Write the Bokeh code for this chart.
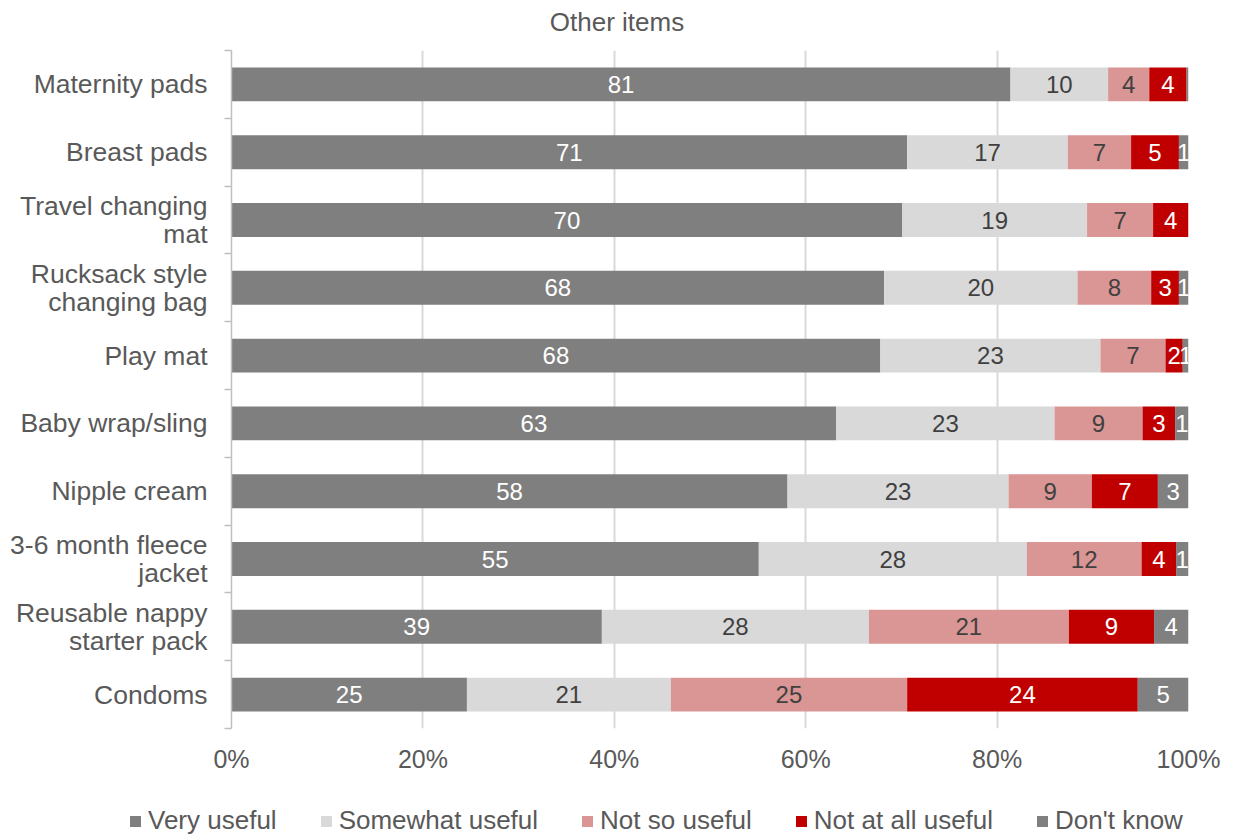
import numpy as np
from bokeh.plotting import figure
from bokeh.layouts import column
from bokeh.models import FixedTicker, ColumnDataSource, Range1d, Div
from bokeh.core.properties import value
from bokeh.embed import file_html
from bokeh.resources import INLINE

title_text = "Other items"
categories = ["Maternity pads", "Breast pads", "Travel changing\nmat", "Rucksack style\nchanging bag",
              "Play mat", "Baby wrap/sling", "Nipple cream", "3-6 month fleece\njacket",
              "Reusable nappy\nstarter pack", "Condoms"]
series = ["Very useful", "Somewhat useful", "Not so useful", "Not at all useful", "Don't know"]
very_useful = [81.4, 70.6, 70.1, 68.2, 67.8, 63.2, 58.1, 55.1, 38.7, 24.6]
somewhat_useful = [10.2, 16.8, 19.3, 20.2, 23.0, 22.8, 23.1, 28.0, 27.9, 21.3]
not_so_useful = [4.3, 6.6, 6.9, 7.7, 6.8, 9.2, 8.7, 12.0, 20.9, 24.7]
not_at_all_useful = [3.9, 5.0, 3.7, 2.9, 1.8, 3.4, 6.9, 3.6, 8.9, 24.1]
dont_know = [0.2, 1.0, 0.0, 1.0, 0.6, 1.4, 3.2, 1.3, 3.6, 5.3]
x_ticks = [0, 20, 40, 60, 80, 100]
x_tick_labels = ["0%", "20%", "40%", "60%", "80%", "100%"]

colors = ["#7f7f7f", "#d9d9d9", "#da9694", "#c00000", "#808080"]
label_colors = ["#ffffff", "#404040", "#404040", "#ffffff", "#ffffff"]
FONT = "Liberation Sans"
TXT = "#595959"

n = len(categories)
ys = n - np.arange(n) - 0.5

# title strip (HTML, real text)
title_html = (
    '<div style="position:relative;width:1234px;height:46px;">'
    '<div style="position:absolute;left:0;top:7px;width:1234px;text-align:center;white-space:nowrap;'
    f"font-family:'{FONT}';font-size:26px;line-height:30px;color:{TXT};\">"
    + title_text + '</div></div>'
)
title_div = Div(text=title_html, width=1234, height=46, margin=0)

p = figure(width=1234, height=744, output_backend="svg", toolbar_location=None,
           x_range=Range1d(0, 100), y_range=Range1d(0, n),
           min_border_left=231, min_border_right=46, min_border_top=4, min_border_bottom=62)
p.outline_line_color = None
p.background_fill_color = "white"
p.border_fill_color = "white"

data = [very_useful, somewhat_useful, not_so_useful, not_at_all_useful, dont_know]
left = np.zeros(n)
for s, vals, col, lcol in zip(series, data, colors, label_colors):
    v = np.array(vals, dtype=float)
    right = left + v
    src = ColumnDataSource(dict(y=ys, left=left, right=right))
    p.hbar(y="y", left="left", right="right", height=0.5, source=src,
           fill_color=col, line_color=None, name=s)
    mids = left + v / 2
    rounded = np.floor(v + 0.5).astype(int)
    mask = rounded >= 1
    tsrc = ColumnDataSource(dict(x=mids[mask], y=ys[mask], t=[str(k) for k in rounded[mask]]))
    p.text(x="x", y="y", text="t", source=tsrc, text_align="center", text_baseline="middle",
           text_font=value(FONT), text_font_size="24px", text_color=lcol)
    left = right

# x axis
p.xaxis.ticker = FixedTicker(ticks=x_ticks)
p.xaxis.major_label_overrides = {t: l for t, l in zip(x_ticks, x_tick_labels)}
p.xaxis.axis_line_color = None
p.xaxis.major_tick_line_color = None
p.xaxis.minor_tick_line_color = None
p.xaxis.major_tick_out = 0
p.xaxis.major_label_standoff = 16
p.xaxis.major_label_text_font = FONT
p.xaxis.major_label_text_font_size = "25px"
p.xaxis.major_label_text_color = TXT

# y axis
p.yaxis.ticker = FixedTicker(ticks=list(ys), minor_ticks=list(range(n + 1)))
p.yaxis.major_label_overrides = {float(y): c for y, c in zip(ys, categories)}
p.yaxis.axis_line_color = "#bfbfbf"
p.yaxis.axis_line_width = 1.5
p.yaxis.major_tick_line_color = None
p.yaxis.major_tick_out = 0
p.yaxis.major_tick_in = 0
p.yaxis.minor_tick_line_color = "#bfbfbf"
p.yaxis.minor_tick_line_width = 1.5
p.yaxis.minor_tick_out = 7
p.yaxis.minor_tick_in = 0
p.yaxis.major_label_standoff = 17
p.yaxis.major_label_text_font = FONT
p.yaxis.major_label_text_font_size = "26.5px"
p.yaxis.major_label_text_line_height = 0.95
p.yaxis.major_label_text_color = TXT

p.xgrid.grid_line_color = "#d9d9d9"
p.xgrid.grid_line_width = 2
p.ygrid.grid_line_color = None

# legend strip (HTML, real text)
item_html = ""
for s, col in zip(series, colors):
    item_html += (
        f'<span style="display:inline-block;width:11px;height:11px;background:{col};'
        f'margin-right:7px;vertical-align:middle;position:relative;top:-1px"></span>'
        f'<span style="margin-right:44px">{s}</span>'
    )
legend_html = (
    '<div style="position:relative;width:1234px;height:46px;">'
    '<div style="position:absolute;left:130px;top:15px;white-space:nowrap;'
    f"font-family:'{FONT}';font-size:26px;line-height:30px;color:{TXT};\">"
    + item_html + '</div></div>'
)
legend_div = Div(text=legend_html, width=1234, height=46, margin=0)

layout = column(title_div, p, legend_div, spacing=0)
open("out.html", "w").write(file_html(layout, INLINE))
